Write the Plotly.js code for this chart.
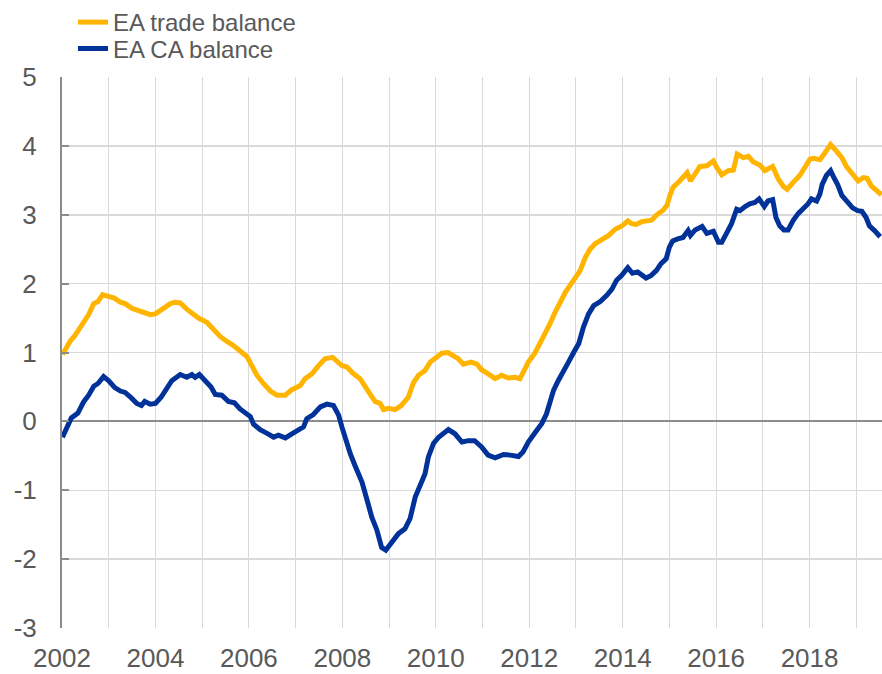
<!DOCTYPE html>
<html>
<head>
<meta charset="utf-8">
<script src="https://cdn.plot.ly/plotly-3.0.1.min.js"></script>
<style>
  html, body { margin: 0; padding: 0; background: #ffffff; }
  #chart { width: 882px; height: 674px; }
</style>
</head>
<body>
<div id="chart"></div>
<script>
// ---- Data ----
const seriesNames = ["EA trade balance", "EA CA balance"];

const tradeYears = [2002.01,2002.18,2002.28,2002.43,2002.57,2002.68,2002.77,2002.87,2003.00,2003.12,2003.25,2003.35,2003.50,2003.60,2003.70,2003.77,2003.89,2004.00,2004.10,2004.21,2004.32,2004.42,2004.53,2004.67,2004.82,2004.92,2005.10,2005.24,2005.39,2005.53,2005.67,2005.85,2005.96,2006.03,2006.12,2006.17,2006.31,2006.46,2006.60,2006.78,2006.92,2007.10,2007.20,2007.35,2007.49,2007.63,2007.79,2007.88,2007.99,2008.10,2008.24,2008.38,2008.49,2008.59,2008.70,2008.81,2008.88,2008.99,2009.13,2009.26,2009.41,2009.52,2009.63,2009.77,2009.88,2010.02,2010.13,2010.26,2010.38,2010.48,2010.59,2010.76,2010.88,2010.98,2011.12,2011.27,2011.41,2011.55,2011.70,2011.80,2011.87,2011.98,2012.12,2012.23,2012.34,2012.44,2012.55,2012.66,2012.77,2012.87,2012.98,2013.09,2013.20,2013.30,2013.41,2013.55,2013.70,2013.84,2013.99,2014.11,2014.19,2014.29,2014.41,2014.62,2014.73,2014.87,2014.95,2015.01,2015.08,2015.22,2015.33,2015.38,2015.45,2015.55,2015.65,2015.80,2015.94,2016.01,2016.12,2016.26,2016.37,2016.45,2016.58,2016.69,2016.79,2016.94,2017.04,2017.21,2017.33,2017.44,2017.52,2017.65,2017.79,2017.90,2018.01,2018.09,2018.22,2018.33,2018.45,2018.58,2018.69,2018.79,2018.92,2019.04,2019.15,2019.23,2019.32,2019.43,2019.54];
const tradeValues = [0.97,1.17,1.25,1.42,1.55,1.71,1.74,1.84,1.81,1.79,1.73,1.71,1.64,1.62,1.60,1.58,1.55,1.56,1.61,1.67,1.71,1.73,1.72,1.63,1.55,1.50,1.44,1.33,1.23,1.16,1.10,1.00,0.94,0.85,0.74,0.67,0.55,0.44,0.38,0.38,0.46,0.52,0.62,0.69,0.81,0.91,0.93,0.88,0.81,0.79,0.69,0.62,0.52,0.40,0.29,0.26,0.17,0.19,0.17,0.23,0.35,0.56,0.67,0.74,0.86,0.93,0.99,1.00,0.94,0.91,0.83,0.86,0.83,0.75,0.69,0.62,0.67,0.63,0.64,0.62,0.71,0.86,0.99,1.13,1.25,1.41,1.58,1.74,1.87,1.97,2.07,2.19,2.38,2.50,2.58,2.63,2.70,2.79,2.84,2.91,2.87,2.86,2.90,2.92,3.00,3.07,3.14,3.28,3.40,3.49,3.57,3.61,3.49,3.61,3.70,3.71,3.78,3.69,3.58,3.64,3.65,3.88,3.83,3.85,3.77,3.72,3.64,3.70,3.52,3.41,3.37,3.47,3.57,3.69,3.81,3.82,3.80,3.90,4.02,3.92,3.83,3.70,3.59,3.49,3.54,3.53,3.42,3.35,3.29];

const caYears = [2002.01,2002.10,2002.20,2002.34,2002.46,2002.57,2002.68,2002.77,2002.89,2003.00,2003.13,2003.25,2003.35,2003.50,2003.60,2003.70,2003.77,2003.89,2004.00,2004.12,2004.25,2004.35,2004.53,2004.67,2004.78,2004.85,2004.94,2005.07,2005.19,2005.28,2005.42,2005.56,2005.69,2005.81,2005.96,2006.03,2006.10,2006.24,2006.38,2006.53,2006.63,2006.78,2006.92,2007.06,2007.17,2007.24,2007.38,2007.53,2007.67,2007.81,2007.92,2007.99,2008.06,2008.17,2008.27,2008.42,2008.52,2008.63,2008.74,2008.84,2008.93,2009.06,2009.20,2009.34,2009.45,2009.56,2009.66,2009.77,2009.84,2009.95,2010.06,2010.13,2010.27,2010.41,2010.56,2010.70,2010.83,2010.98,2011.12,2011.27,2011.45,2011.59,2011.77,2011.87,2011.98,2012.12,2012.27,2012.37,2012.44,2012.52,2012.62,2012.73,2012.84,2012.95,2013.06,2013.16,2013.27,2013.38,2013.52,2013.66,2013.77,2013.87,2013.98,2014.11,2014.21,2014.32,2014.50,2014.61,2014.72,2014.82,2014.93,2015.00,2015.07,2015.18,2015.29,2015.40,2015.45,2015.55,2015.70,2015.80,2015.94,2016.05,2016.12,2016.23,2016.33,2016.44,2016.51,2016.62,2016.72,2016.83,2016.92,2017.03,2017.11,2017.21,2017.28,2017.36,2017.45,2017.54,2017.65,2017.76,2017.86,2017.97,2018.04,2018.15,2018.22,2018.27,2018.36,2018.45,2018.52,2018.60,2018.69,2018.81,2018.92,2019.03,2019.12,2019.21,2019.28,2019.39,2019.51];
const caValues = [-0.23,-0.08,0.05,0.12,0.28,0.38,0.51,0.55,0.65,0.59,0.49,0.44,0.42,0.33,0.26,0.23,0.29,0.25,0.26,0.35,0.50,0.59,0.68,0.64,0.68,0.64,0.68,0.59,0.50,0.39,0.38,0.29,0.27,0.18,0.09,0.07,-0.04,-0.12,-0.17,-0.23,-0.20,-0.24,-0.18,-0.12,-0.08,0.04,0.10,0.21,0.25,0.23,0.09,-0.08,-0.25,-0.47,-0.64,-0.88,-1.12,-1.39,-1.58,-1.83,-1.87,-1.75,-1.63,-1.56,-1.41,-1.10,-0.95,-0.76,-0.52,-0.32,-0.23,-0.20,-0.12,-0.18,-0.30,-0.28,-0.28,-0.37,-0.49,-0.53,-0.48,-0.49,-0.51,-0.44,-0.30,-0.17,-0.03,0.11,0.28,0.45,0.59,0.71,0.86,1.00,1.13,1.37,1.56,1.68,1.74,1.83,1.92,2.05,2.12,2.23,2.15,2.17,2.08,2.12,2.19,2.29,2.36,2.53,2.62,2.65,2.67,2.77,2.70,2.78,2.83,2.73,2.76,2.60,2.60,2.74,2.87,3.08,3.06,3.12,3.16,3.18,3.23,3.12,3.20,3.22,2.96,2.84,2.78,2.78,2.92,3.02,3.08,3.16,3.23,3.20,3.30,3.44,3.57,3.64,3.54,3.44,3.28,3.18,3.10,3.06,3.05,2.96,2.84,2.77,2.68];

const xTickValues = [2002, 2004, 2006, 2008, 2010, 2012, 2014, 2016, 2018];
const xTickLabels = ["2002", "2004", "2006", "2008", "2010", "2012", "2014", "2016", "2018"];
const yTickValues = [-3, -2, -1, 0, 1, 2, 3, 4, 5];
const yTickLabels = ["-3", "-2", "-1", "0", "1", "2", "3", "4", "5"];

// ---- Styling ----
const YELLOW = "#FFB400";
const BLUE = "#003299";
const GRID = "#d9d9d9";
const AXIS = "#8c8c8c";
const TEXT = "#595959";
const FONT = "Liberation Sans, Arial, sans-serif";

const traces = [
  {
    x: tradeYears, y: tradeValues, name: seriesNames[0],
    type: "scatter", mode: "lines",
    line: { color: YELLOW, width: 5, shape: "linear" },
    legend: "legend",
    hoverinfo: "skip"
  },
  {
    x: caYears, y: caValues, name: seriesNames[1],
    type: "scatter", mode: "lines",
    line: { color: BLUE, width: 5, shape: "linear" },
    legend: "legend2",
    hoverinfo: "skip"
  }
];

const xRange = [2002, 2019.55];

const legendStyle = {
  xanchor: "left", yanchor: "top",
  bgcolor: "rgba(0,0,0,0)",
  font: { family: FONT, size: 24, color: TEXT },
  itemclick: false, itemdoubleclick: false
};

const layout = {
  width: 882, height: 674,
  margin: { l: 62, r: 0, t: 76, b: 46, pad: 0 },
  paper_bgcolor: "#ffffff",
  plot_bgcolor: "#ffffff",
  font: { family: FONT, color: TEXT, size: 26 },
  showlegend: true,
  legend: Object.assign({ x: 0.0134, y: 1.14 }, legendStyle),
  legend2: Object.assign({ x: 0.0134, y: 1.09 }, legendStyle),
  xaxis: {
    type: "linear",
    range: xRange,
    tickmode: "array",
    tickvals: xTickValues,
    ticktext: xTickLabels,
    ticks: "",
    showgrid: true, gridcolor: GRID, gridwidth: 1,
    minor: { dtick: 1, tick0: 2002, showgrid: true, gridcolor: GRID, gridwidth: 1, ticks: "" },
    showline: false,
    zeroline: false,
    tickfont: { family: FONT, size: 26, color: TEXT },
    ticklabelstandoff: 12,
    fixedrange: true
  },
  xaxis2: {
    type: "linear",
    overlaying: "x",
    anchor: "free",
    position: 0.375,
    side: "bottom",
    range: xRange,
    tickmode: "array",
    tickvals: xTickValues,
    ticks: "outside",
    ticklen: 6, tickwidth: 2, tickcolor: AXIS,
    showticklabels: false,
    showgrid: false, zeroline: false, showline: false,
    fixedrange: true
  },
  yaxis: {
    range: [-3, 5],
    tickmode: "array",
    tickvals: yTickValues,
    ticktext: yTickLabels,
    ticks: "inside",
    ticklen: 7, tickwidth: 2, tickcolor: AXIS,
    showline: true, linecolor: AXIS, linewidth: 2,
    showgrid: true, gridcolor: GRID, gridwidth: 1.5,
    zeroline: true, zerolinecolor: AXIS, zerolinewidth: 2,
    tickfont: { family: FONT, size: 26, color: TEXT },
    ticklabelstandoff: 18,
    fixedrange: true
  }
};

Plotly.newPlot("chart", traces, layout, { staticPlot: true, displayModeBar: false });
</script>
</body>
</html>
